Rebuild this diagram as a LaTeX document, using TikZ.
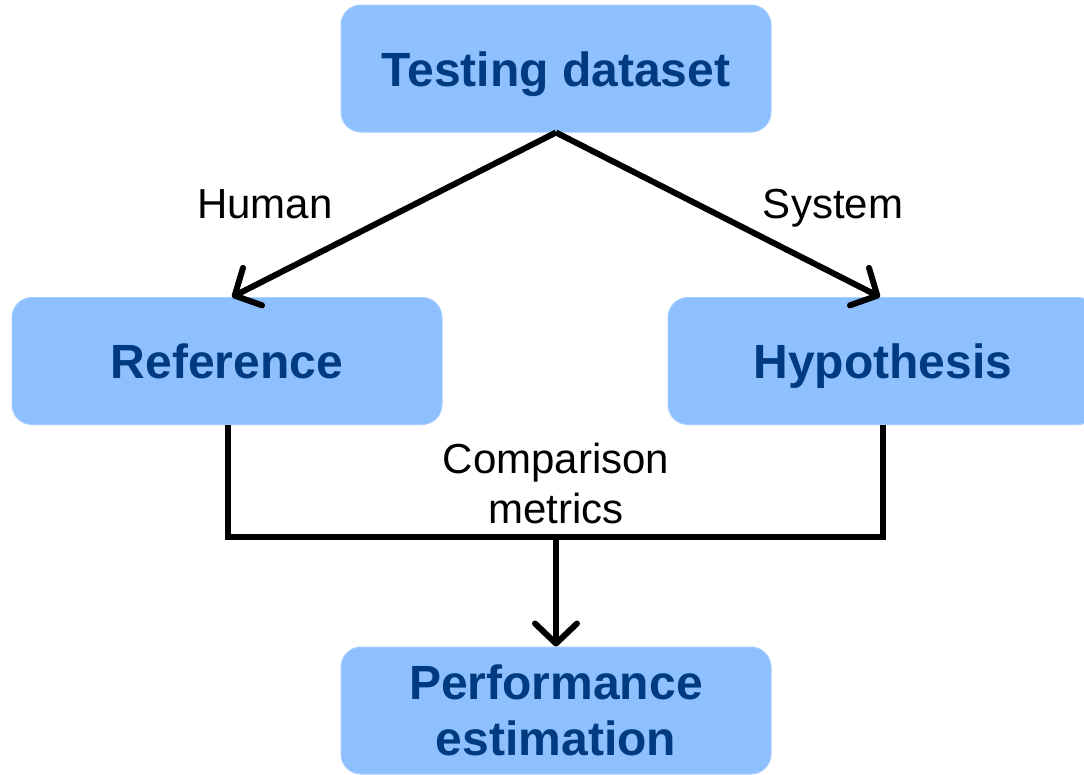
\documentclass[tikz,border=0pt]{standalone}
\usepackage{fontspec}
\setmainfont{Liberation Sans}
\usetikzlibrary{arrows.meta}
\definecolor{boxfill}{RGB}{142,192,255}
\definecolor{boxtext}{RGB}{0,58,128}
\begin{document}
\begin{tikzpicture}[x=1pt,y=-1pt,
  box/.style={draw=boxfill!80!white,line width=1pt,fill=boxfill,rounded corners=20pt,minimum width=430pt,minimum height=127pt,
    font=\fontsize{48}{56}\selectfont\bfseries,text=boxtext,align=center,inner sep=0pt},
  one/.style={text height=35pt,text depth=0pt},
  conn/.style={line width=6pt,black},
  arr/.style={conn,-{Straight Barb[length=20pt,width=42pt,line cap=round,line join=round]}},
  lbl/.style={font=\fontsize{42}{50}\selectfont,align=center,inner sep=0pt},
  lone/.style={text height=30pt,text depth=0pt}]
\useasboundingbox (0,0) rectangle (1084,774);
\clip (0,0) rectangle (1084,774);
\node[box,one] (test) at (556,68.5) {Testing dataset};
\node[box,one] (ref) at (227,361) {Reference};
\node[box,one] (hyp) at (883,361) {Hypothesis};
\node[box] (perf) at (556,710.5) {Performance\\estimation};
\coordinate (top) at (test.south);
\draw[arr] (top) -- (ref.north -| 232,0);
\draw[arr] (top) -- (hyp.north -| 880,0);
\coordinate (jl) at (228,537);
\coordinate (jr) at (883,537);
\coordinate (jm) at (556,537);
\draw[conn,line join=miter] (ref.south -| jl) -- (jl) -- (jr) -- (hyp.south -| jr);
\draw[arr] (jm) -- (perf.north);
\node[lbl,lone] (human) at (265,203) {Human};
\node[lbl,lone] (system) at (833,203) {System};
\node[lbl] (cmp) at (556,483) {Comparison\\metrics};
\end{tikzpicture}
\end{document}
